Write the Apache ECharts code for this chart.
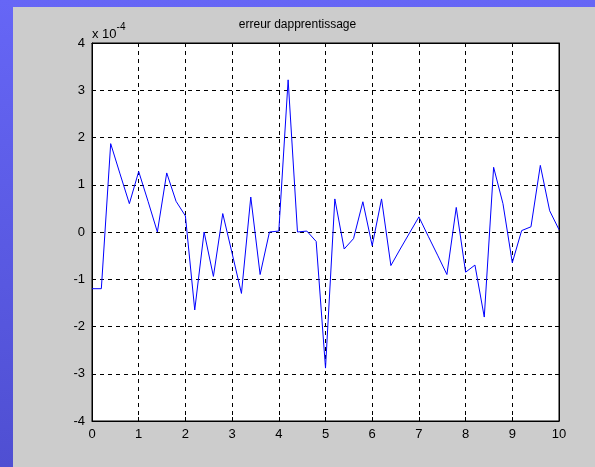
<!DOCTYPE html>
<html>
<head>
<meta charset="utf-8">
<script src="https://cdn.jsdelivr.net/npm/echarts@6/dist/echarts.min.js"></script>
<style>
  html, body { margin: 0; padding: 0; }
  #main { width: 595px; height: 467px; }
</style>
</head>
<body>
<div id="main"></div>
<script>
// abscisses (pas de 0.2) et erreur, en unites de 1e-4
var xData = [0, 0.2, 0.4, 0.6, 0.8, 1, 1.2, 1.4, 1.6, 1.8,
  2, 2.2, 2.4, 2.6, 2.8, 3, 3.2, 3.4, 3.6, 3.8,
  4, 4.2, 4.4, 4.6, 4.8, 5, 5.2, 5.4, 5.6, 5.8,
  6, 6.2, 6.4, 6.6, 6.8, 7, 7.2, 7.4, 7.6, 7.8,
  8, 8.2, 8.4, 8.6, 8.8, 9, 9.2, 9.4, 9.6, 9.8, 10];
var errData = [-1.2, -1.2, 1.87, 1.23, 0.6, 1.28, 0.65, 0.0, 1.25, 0.65,
  0.34, -1.65, 0.0, -0.94, 0.39, -0.45, -1.3, 0.74, -0.9, 0.0,
  0.02, 3.22, 0.0, 0.02, -0.2, -2.88, 0.7, -0.36, -0.14, 0.64,
  -0.29, 0.7, -0.71, -0.36, -0.02, 0.32, -0.09, -0.49, -0.9, 0.52,
  -0.85, -0.7, -1.8, 1.37, 0.6, -0.65, 0.03, 0.11, 1.41, 0.45, 0.05];
var titleText = 'erreur dapprentissage';

var chart = echarts.init(document.getElementById('main'));

var gridLine = { show: true, lineStyle: { color: '#000', type: [4, 4], width: 1 } };
var tickIn = { show: true, inside: true, length: 4, lineStyle: { color: '#000' } };
var lbl = { color: '#000', fontSize: 13, fontFamily: 'Liberation Sans, Arial, sans-serif' };
var frame = { show: true, onZero: false, lineStyle: { color: '#000' } };

var option = {
  animation: false,
  backgroundColor: new echarts.graphic.LinearGradient(0, 0, 0, 1, [
    { offset: 0, color: '#6666f6' },
    { offset: 1, color: '#4f4fd2' }
  ]),
  graphic: [
    { type: 'rect', left: 13, top: 7, z: -10, shape: { width: 582, height: 460 }, style: { fill: '#cccccc' } },
    {
      type: 'text', left: 92, top: 22,
      style: {
        text: '{a|x 10}{b|-4}',
        rich: {
          a: { fontSize: 13, fill: '#000', fontFamily: 'Liberation Sans, Arial, sans-serif', padding: [6, 0, 0, 0] },
          b: { fontSize: 10, fill: '#000', fontFamily: 'Liberation Sans, Arial, sans-serif', verticalAlign: 'top' }
        }
      }
    }
  ],
  title: {
    text: titleText,
    left: 'center',
    top: 19,
    padding: 0,
    textStyle: { fontSize: 12, fontWeight: 'normal', color: '#000', fontFamily: 'Liberation Sans, Arial, sans-serif' }
  },
  grid: {
    left: 92, top: 43, width: 467, height: 378,
    show: true, backgroundColor: '#fff', borderColor: '#000', borderWidth: 1
  },
  xAxis: [
    {
      type: 'value', min: 0, max: 10, interval: 1,
      axisLine: frame,
      axisTick: tickIn,
      axisLabel: Object.assign({ margin: 7 }, lbl),
      splitLine: gridLine
    },
    {
      type: 'value', position: 'top', min: 0, max: 10, interval: 1,
      axisLine: frame,
      axisTick: tickIn, axisLabel: { show: false }, splitLine: { show: false }
    }
  ],
  yAxis: [
    {
      type: 'value', min: -4, max: 4, interval: 1,
      axisLine: frame,
      axisTick: tickIn,
      axisLabel: Object.assign({ margin: 7 }, lbl),
      splitLine: gridLine
    },
    {
      type: 'value', position: 'right', min: -4, max: 4, interval: 1,
      axisLine: frame,
      axisTick: tickIn, axisLabel: { show: false }, splitLine: { show: false }
    }
  ],
  series: [
    {
      type: 'line',
      data: xData.map(function (x, i) { return [x, errData[i]]; }),
      showSymbol: false,
      lineStyle: { color: '#0000ff', width: 1 },
      z: 5
    }
  ]
};
chart.setOption(option);
</script>
</body>
</html>
